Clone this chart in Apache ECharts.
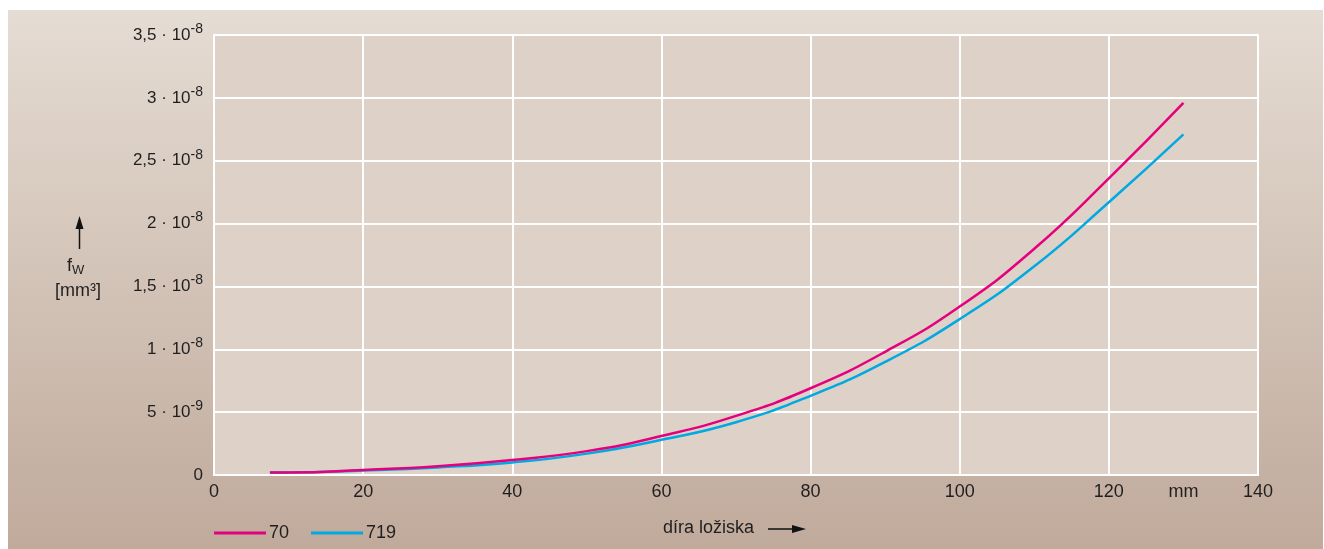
<!DOCTYPE html>
<html>
<head>
<meta charset="utf-8">
<script src="https://cdn.jsdelivr.net/npm/echarts@6/dist/echarts.min.js"></script>
<style>
html,body{margin:0;padding:0;background:#fff;}
#c{width:1324px;height:549px;}
</style>
</head>
<body>
<div id="c"></div>
<script>
// bore diameter, mm
const bore = [7.5, 10, 20, 30, 40, 50, 60, 70, 80, 90, 100, 110, 120, 130];
// f_W values in units of 10^-8 mm^3
const series70 = [0.02, 0.02, 0.04, 0.07, 0.12, 0.19, 0.31, 0.47, 0.69, 0.98, 1.34, 1.80, 2.36, 2.96];
const series719 = [0.02, 0.02, 0.035, 0.06, 0.10, 0.17, 0.28, 0.42, 0.63, 0.90, 1.24, 1.66, 2.17, 2.71];
const seriesNames = ['70', '719'];
const xTicks = [0, 20, 40, 60, 80, 100, 120, 130, 140];
const yTickLabels = {
  '0': ['0', ''],
  '0.5': ['5 · 10', '-9'],
  '1': ['1 · 10', '-8'],
  '1.5': ['1,5 · 10', '-8'],
  '2': ['2 · 10', '-8'],
  '2.5': ['2,5 · 10', '-8'],
  '3': ['3 · 10', '-8'],
  '3.5': ['3,5 · 10', '-8']
};

const FONT = '"Liberation Sans", Arial, Helvetica, sans-serif';
const TXT = '#1f1f1f';
const FS = 18;
const chart = echarts.init(document.getElementById('c'));

chart.setOption({
  animation: false,
  textStyle: { fontFamily: FONT },
  graphic: [
    {
      type: 'rect', z: -10, silent: true,
      shape: { x: 8, y: 10, width: 1315, height: 539 },
      style: {
        fill: new echarts.graphic.LinearGradient(0, 0, 0, 1, [
          { offset: 0, color: '#e5dcd3' },
          { offset: 1, color: '#c0aa9c' }
        ])
      }
    },
    // y title arrow
    { type: 'line', shape: { x1: 79.5, y1: 249, x2: 79.5, y2: 226 }, style: { stroke: '#111', lineWidth: 1.5 } },
    { type: 'polygon', shape: { points: [[79.5, 216], [75.5, 229], [83.5, 229]] }, style: { fill: '#111' } },
    {
      type: 'text', left: 67, top: 257,
      style: {
        text: '{f|f}{s|W}',
        rich: {
          f: { fontSize: FS, fontFamily: FONT, fill: TXT },
          s: { fontSize: 13, fontFamily: FONT, fill: TXT, padding: [9, 0, 0, 0] }
        }
      }
    },
    {
      type: 'text', left: 55, top: 282,
      style: { text: '[mm³]', fontSize: FS, fontFamily: FONT, fill: TXT }
    },
    // x title
    {
      type: 'text', left: 663, top: 519,
      style: { text: 'díra ložiska', fontSize: FS, fontFamily: FONT, fill: TXT }
    },
    { type: 'line', shape: { x1: 768, y1: 529, x2: 795, y2: 529 }, style: { stroke: '#111', lineWidth: 1.5 } },
    { type: 'polygon', shape: { points: [[806, 529], [792, 525], [792, 533]] }, style: { fill: '#111' } }
  ],
  legend: {
    left: 209, top: 519,
    data: seriesNames,
    icon: 'rect',
    itemWidth: 52, itemHeight: 3, itemGap: 22,
    textStyle: { fontSize: FS, color: TXT, fontFamily: FONT, padding: [0, 0, 0, -2] }
  },
  grid: {
    left: 214, right: 66, top: 35, bottom: 74,
    show: true, backgroundColor: '#ddd1c8', borderColor: '#ffffff', borderWidth: 2
  },
  xAxis: {
    type: 'value', min: 0, max: 140, interval: 20,
    axisLine: { show: false },
    axisTick: { show: false },
    splitLine: { show: true, lineStyle: { color: '#ffffff', width: 2 } },
    axisLabel: {
      customValues: xTicks,
      margin: 8, fontSize: FS, color: TXT, fontFamily: FONT,
      formatter: v => (v === 130 ? 'mm' : String(v))
    }
  },
  yAxis: {
    type: 'value', min: 0, max: 3.5, interval: 0.5,
    axisLine: { show: false },
    axisTick: { show: false },
    splitLine: { show: true, lineStyle: { color: '#ffffff', width: 2 } },
    axisLabel: {
      margin: 11, fontSize: 17, color: TXT, fontFamily: FONT,
      formatter: v => {
        const k = String(Math.round(v * 10) / 10);
        const p = yTickLabels[k];
        if (!p) return '';
        return p[1] ? '{a|' + p[0] + '}{s|' + p[1] + '}' : '{a|' + p[0] + '}';
      },
      rich: {
        a: { fontSize: 17, color: TXT, fontFamily: FONT },
        s: { fontSize: 14, color: TXT, fontFamily: FONT, padding: [0, 0, 12, 0] }
      }
    }
  },
  series: [
    {
      name: seriesNames[1], type: 'line', smooth: true, showSymbol: false, z: 2,
      data: bore.map((x, i) => [x, series719[i]]),
      lineStyle: { color: '#00a9e2', width: 2.5 }, itemStyle: { color: '#00a9e2' }
    },
    {
      name: seriesNames[0], type: 'line', smooth: true, showSymbol: false, z: 3,
      data: bore.map((x, i) => [x, series70[i]]),
      lineStyle: { color: '#e5007e', width: 2.5 }, itemStyle: { color: '#e5007e' }
    }
  ]
});
</script>
</body>
</html>
